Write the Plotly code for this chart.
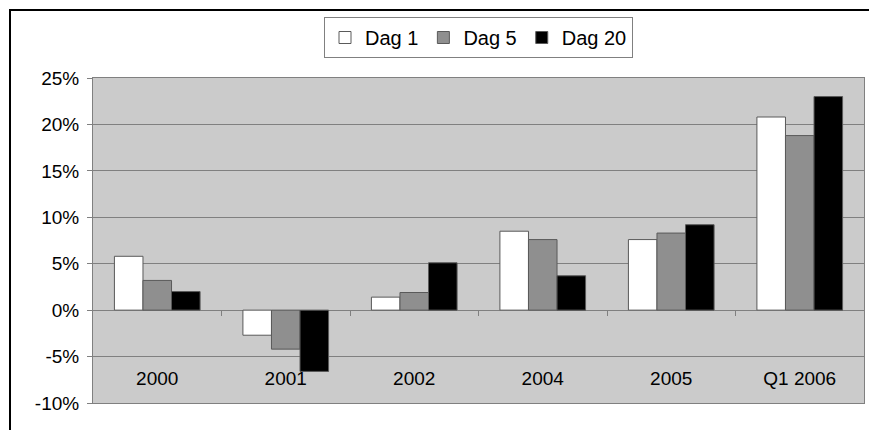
import plotly.graph_objects as go

categories = ["2000", "2001", "2002", "2004", "2005", "Q1 2006"]
dag1 = [5.8, -2.7, 1.4, 8.5, 7.6, 20.8]
dag5 = [3.2, -4.2, 1.9, 7.6, 8.3, 18.8]
dag20 = [2.0, -6.6, 5.1, 3.7, 9.2, 23.0]
series_names = ["Dag 1", "Dag 5", "Dag 20"]
y_ticks = [-10, -5, 0, 5, 10, 15, 20, 25]
y_tick_labels = ["-10%", "-5%", "0%", "5%", "10%", "15%", "20%", "25%"]

fills = ["#FFFFFF", "#8F8F8F", "#000000"]
fig = go.Figure()
for name, vals, col in zip(series_names, [dag1, dag5, dag20], fills):
    fig.add_trace(go.Bar(
        x=categories, y=vals, name=name,
        marker=dict(color=col, line=dict(color="#5a5a5a", width=1)),
    ))

FONT = "Liberation Sans, Arial, sans-serif"
L, R, T, B = 93, 5, 78, 27
W, H = 869, 430
pw, ph = W - L - R, H - T - B

def px_x(p):
    return (p - L) / pw

def px_y(p):
    return (H - B - p) / ph

fig.update_layout(
    width=W, height=H,
    margin=dict(l=L, r=R, t=T, b=B),
    paper_bgcolor="white",
    plot_bgcolor="#CBCBCB",
    barmode="group",
    bargap=1/3,
    bargroupgap=0,
    font=dict(family=FONT, size=19, color="black"),
    showlegend=True,
    legend=dict(
        orientation="h",
        x=0.5, xanchor="center",
        y=px_y(17), yanchor="top",
        bgcolor="white",
        bordercolor="#808080", borderwidth=1,
        font=dict(family=FONT, size=20, color="black"),
        itemwidth=30,
        tracegroupgap=0,
        traceorder="normal",
    ),
    xaxis=dict(
        type="category",
        range=[-0.5, 5.5],
        showgrid=False,
        showline=True, linecolor="#808080", linewidth=1, mirror=True,
        ticks="",
        showticklabels=False,
        zeroline=False,
    ),
    xaxis2=dict(
        overlaying="x",
        anchor="free",
        position=(0 - (-10)) / 35,
        range=[-0.5, 5.5],
        tickmode="array",
        tickvals=[0.5, 1.5, 2.5, 3.5, 4.5],
        ticks="outside", ticklen=5, tickcolor="#808080",
        showgrid=False, showline=False, zeroline=False,
        showticklabels=False,
    ),
    xaxis3=dict(
        overlaying="x",
        anchor="free",
        position=px_y(365),
        range=[-0.5, 5.5],
        tickmode="array",
        tickvals=list(range(len(categories))),
        ticktext=categories,
        ticks="",
        showgrid=False, showline=False, zeroline=False,
        tickfont=dict(family=FONT, size=19, color="black"),
    ),
    yaxis=dict(
        range=[-10, 25],
        tickmode="array",
        tickvals=y_ticks,
        ticktext=y_tick_labels,
        ticks="outside", ticklen=5, tickcolor="#808080",
        ticklabelstandoff=4,
        showgrid=True, gridcolor="#808080", gridwidth=1,
        zeroline=True, zerolinecolor="#808080", zerolinewidth=1,
        showline=True, linecolor="#808080", linewidth=1, mirror=True,
        tickfont=dict(family=FONT, size=19, color="black"),
    ),
)

# invisible traces to activate the helper axes
for ax in ["x2", "x3"]:
    fig.add_trace(go.Scatter(x=[0], y=[0], xaxis=ax, mode="markers",
                             marker=dict(opacity=0), showlegend=False, hoverinfo="skip"))

# outer frame (cut off at right and bottom)
fig.add_shape(type="rect", xref="paper", yref="paper",
              x0=px_x(10), x1=px_x(885), y0=px_y(445), y1=px_y(10),
              line=dict(color="black", width=2), layer="above")

fig.write_html("out.html", config={"displayModeBar": False},
               post_script="document.body.style.margin='0';document.body.style.overflow='hidden';")
